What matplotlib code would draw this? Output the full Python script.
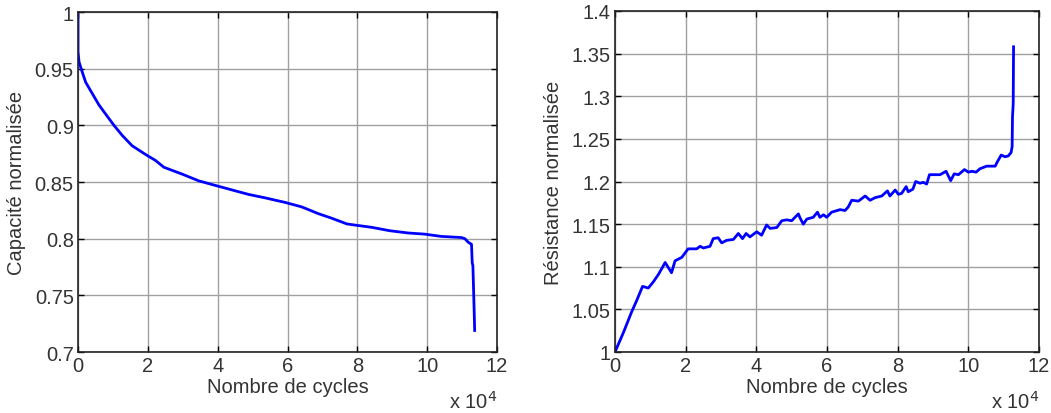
import matplotlib
matplotlib.use("Agg")
import matplotlib.pyplot as plt

plt.rcParams['font.family'] = ['Liberation Sans', 'DejaVu Sans']

# Capacity (left) -- cycles in units of 1e4
cap_cycles = [0, 0.0, 0.03, 0.10, 0.22, 0.41, 0.60, 0.79, 1.03, 1.27, 1.55, 1.95,
              2.22, 2.46, 2.98, 3.46, 3.93, 4.41, 4.89, 5.36, 5.93, 6.41, 6.89,
              7.27, 7.70, 7.93, 8.41, 8.93, 9.46, 9.93, 10.40, 10.98, 11.08,
              11.17, 11.27, 11.29, 11.31, 11.35, 11.36]
cap_values = [1.000, 0.965, 0.956, 0.949, 0.938, 0.928, 0.918, 0.910, 0.900,
              0.891, 0.882, 0.874, 0.869, 0.863, 0.857, 0.851, 0.847, 0.843,
              0.839, 0.836, 0.832, 0.828, 0.822, 0.818, 0.813, 0.812, 0.810,
              0.807, 0.805, 0.804, 0.802, 0.801, 0.800, 0.797, 0.795, 0.779,
              0.776, 0.732, 0.719]

# Resistance (right)
res_cycles = [0.00, 0.24, 0.47, 0.61, 0.78, 0.94, 1.08, 1.23, 1.42, 1.60, 1.70,
              1.89, 2.07, 2.31, 2.41, 2.50, 2.69, 2.78, 2.92, 3.02, 3.16, 3.35,
              3.49, 3.61, 3.71, 3.82, 4.01, 4.15, 4.29, 4.39, 4.58, 4.72, 4.86,
              5.00, 5.19, 5.24, 5.33, 5.43, 5.61, 5.73, 5.80, 5.90, 5.99, 6.13,
              6.37, 6.51, 6.60, 6.70, 6.89, 7.08, 7.22, 7.36, 7.55, 7.71, 7.78,
              7.93, 8.02, 8.11, 8.24, 8.30, 8.43, 8.51, 8.63, 8.73, 8.82, 8.90,
              9.20, 9.37, 9.50, 9.60, 9.72, 9.89, 10.00, 10.10, 10.22, 10.33,
              10.52, 10.76, 10.82, 10.93, 11.04, 11.13, 11.21, 11.24, 11.25,
              11.27, 11.28]
res_values = [1.000, 1.023, 1.047, 1.060, 1.077, 1.075, 1.082, 1.091, 1.105,
              1.093, 1.107, 1.111, 1.121, 1.121, 1.124, 1.122, 1.124, 1.133,
              1.134, 1.128, 1.131, 1.132, 1.139, 1.133, 1.139, 1.135, 1.141,
              1.137, 1.149, 1.145, 1.146, 1.154, 1.155, 1.154, 1.162, 1.157,
              1.150, 1.156, 1.158, 1.164, 1.158, 1.161, 1.158, 1.164, 1.167,
              1.166, 1.170, 1.178, 1.177, 1.183, 1.178, 1.181, 1.183, 1.189,
              1.183, 1.190, 1.185, 1.186, 1.194, 1.188, 1.191, 1.200, 1.198,
              1.199, 1.197, 1.208, 1.208, 1.212, 1.201, 1.209, 1.208, 1.214,
              1.211, 1.212, 1.211, 1.215, 1.218, 1.218, 1.223, 1.231, 1.229,
              1.230, 1.234, 1.241, 1.276, 1.291, 1.358]

x_ticks = [0, 2, 4, 6, 8, 10, 12]
cap_yticks = [0.7, 0.75, 0.8, 0.85, 0.9, 0.95, 1.0]
cap_yticklabels = ['0.7', '0.75', '0.8', '0.85', '0.9', '0.95', '1']
res_yticks = [1.0, 1.05, 1.1, 1.15, 1.2, 1.25, 1.3, 1.35, 1.4]
res_yticklabels = ['1', '1.05', '1.1', '1.15', '1.2', '1.25', '1.3', '1.35', '1.4']

W, H = 1051, 414
fig = plt.figure(figsize=(W / 100, H / 100), dpi=100)

def make_ax(l, r, b, t):
    return fig.add_axes([l / W, 1 - b / H, (r - l) / W, (b - t) / H])

ax1 = make_ax(78, 497, 353, 13)
ax2 = make_ax(615, 1039, 353, 12)

FS = 14.5
TXT = '#333333'

def style(ax, yticks, yticklabels, ylim, ylabel):
    ax.set_xlim(0, 12)
    ax.set_ylim(*ylim)
    ax.set_xticks(x_ticks)
    ax.set_xticklabels([str(v) for v in x_ticks], fontsize=FS)
    ax.set_yticks(yticks)
    ax.set_yticklabels(yticklabels, fontsize=FS)
    ax.grid(True, color='#a0a0a0', linewidth=1.0, linestyle='-')
    ax.set_axisbelow(True)
    ax.tick_params(direction='in', length=4, width=1, top=True, right=True,
                   colors='black', labelcolor=TXT, pad=3)
    for s in ax.spines.values():
        s.set_color('#222222')
        s.set_linewidth(1.2)
    ax.set_xlabel('Nombre de cycles', fontsize=FS, color=TXT, labelpad=1)
    ax.set_ylabel(ylabel, fontsize=FS, color=TXT, labelpad=6)
    ax.text(1.0, -0.112, r'x 10$^4$', transform=ax.transAxes, ha='right',
            va='top', fontsize=FS, color=TXT)

ax1.plot(cap_cycles, cap_values, color='#0000ff', linewidth=2.0)
style(ax1, cap_yticks, cap_yticklabels, (0.7, 1.0), 'Capacité normalisée')

ax2.plot(res_cycles, res_values, color='#0000ff', linewidth=2.0)
style(ax2, res_yticks, res_yticklabels, (1.0, 1.4), 'Résistance normalisée')

fig.savefig('out.png', dpi=100)
